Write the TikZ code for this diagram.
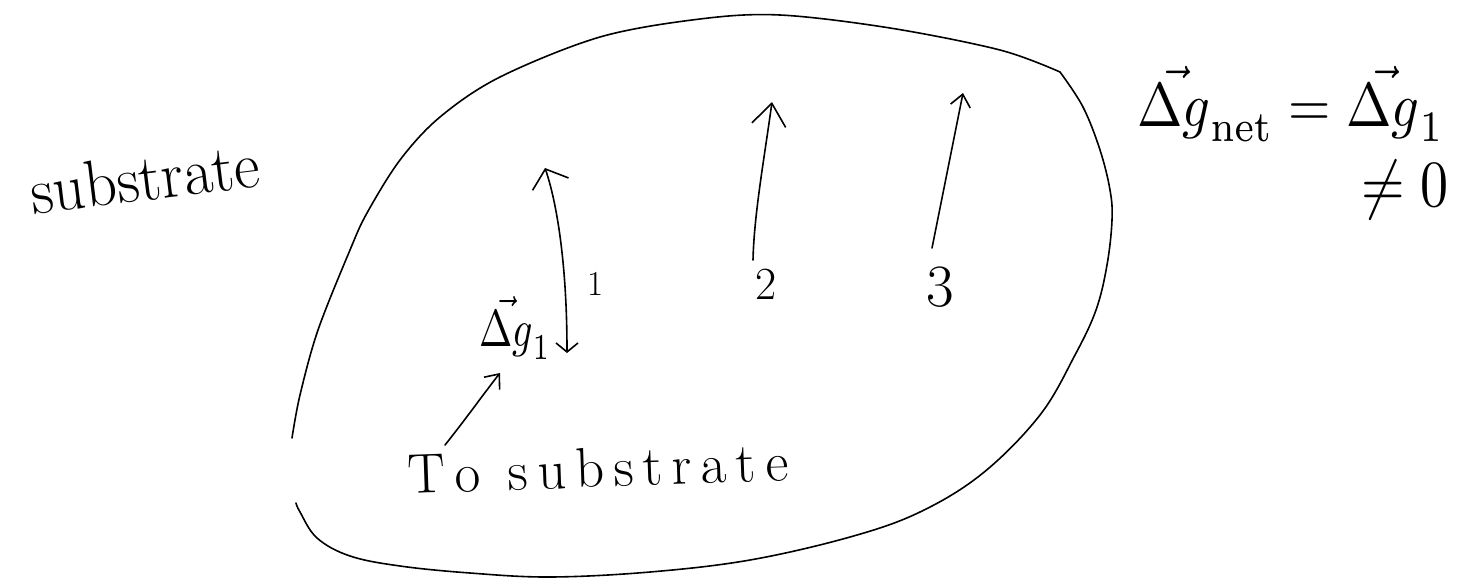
\documentclass[tikz,border=0pt]{standalone}
\usetikzlibrary{arrows.meta}
\begin{document}
\begin{tikzpicture}[x=1pt,y=-1pt,
  ink/.style={line width=1.6pt,line cap=round,line join=round},
  lbl/.style={inner sep=0pt},
  mlbl/.style={inner sep=0pt}]
\useasboundingbox (0,0) rectangle (1471,584);
\fill[white] (0,0) rectangle (1471,584);
% blob outline (two strokes, small gap at lower left)
\draw[ink] plot[smooth,tension=0.55] coordinates {(292,438) (300,395) (318,330) (350,250) (367,213) (400,160) (440,117) (500,77) (600,37) (700,19) (780,15) (890,28) (1000,50) (1060,72)};
\draw[ink] plot[smooth,tension=0.6] coordinates {(1060,72) (1083,107) (1100,150) (1110,190) (1112,220) (1107,265) (1096,310) (1075,355) (1040,415) (983,473) (920,512) (850,537) (750,560) (650,572) (550,577) (470,573) (400,566) (350,556) (317,538) (300,512) (296,503)};
% labels
\node[lbl,rotate=7,font=\fontsize{66}{68}\selectfont] (sub) at (145,178) {\scalebox{0.95}[1]{substrate}};
\node[lbl,rotate=2,font=\fontsize{56}{58}\selectfont] (tosub) at (598,468) {T\,o\hspace{0.5em}s\,u\,b\,s\,t\,r\,a\,t\,e};
\node[mlbl] (dg1) at (515,328) {\scalebox{4}[5.2]{$\vec{\Delta g}_{1}$}};
\node[lbl,font=\fontsize{35}{37}\selectfont] (one) at (596,284) {1};
\node[lbl,font=\fontsize{46}{48}\selectfont] (two) at (766,284) {2};
\node[lbl,font=\fontsize{60}{62}\selectfont] (three) at (940,287) {3};
\node[mlbl,anchor=west] (eq) at (1137,104) {\scalebox{5.45}[6.2]{$\vec{\Delta g}_{\mathrm{net}} = \vec{\Delta g}_{1}$}};
\node[mlbl] (neq) at (1405,190) {\scalebox{5.6}[6.6]{$\neq 0$}};
% coordinates
\coordinate (a1t) at (545,168);
\coordinate (a1b) at (567,353);
\coordinate (a2t) at (772,102);
\coordinate (a2b) at (753,260);
\coordinate (a3t) at (963,93);
\coordinate (a3b) at (932,248);
\coordinate (pt) at (445,445);
\coordinate (ph) at (500,373);
% arrows
\draw[ink,{Straight Barb[length=16pt,width=38pt,line width=1.6pt]}-{Straight Barb[length=9pt,width=22pt,line width=1.6pt]}]
  (a1t) .. controls (556,200) and (567,260) .. (a1b);
\draw[ink,-{Straight Barb[length=22pt,width=34pt,line width=1.6pt]}] (a2b) .. controls (754,215) and (764,160) .. (a2t);
\draw[ink,-{Straight Barb[length=12pt,width=20pt,line width=1.6pt]}] (a3b) -- (a3t);
\draw[ink,-{Straight Barb[length=12pt,width=20pt,line width=1.6pt]}] (pt) .. controls (465,420) and (485,392) .. (ph);
\end{tikzpicture}
\end{document}
